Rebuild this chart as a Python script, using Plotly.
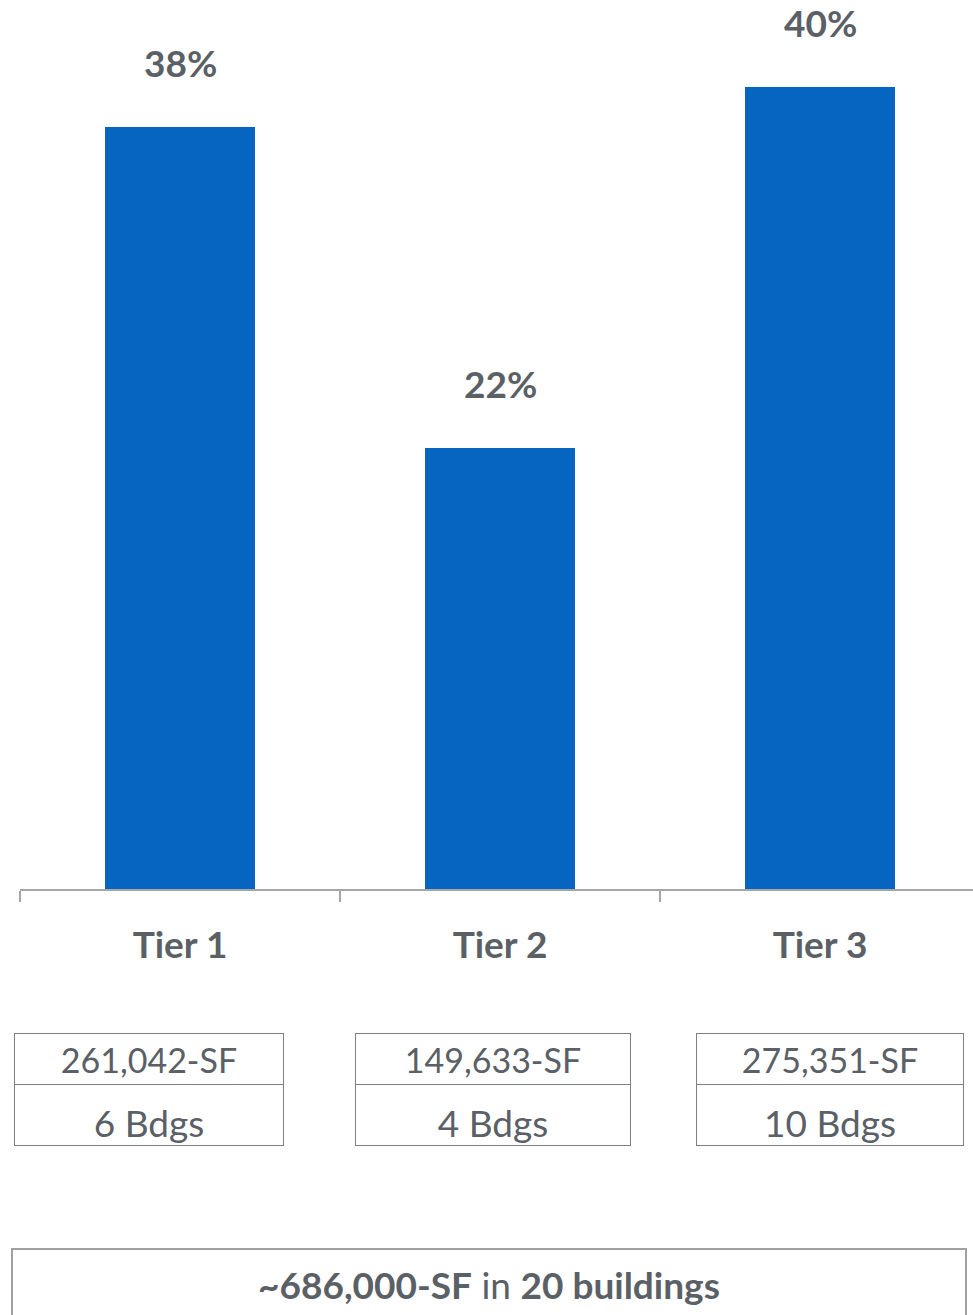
import plotly.graph_objects as go

# Share of total square footage by tier
tiers = ["Tier 1", "Tier 2", "Tier 3"]
share_pct = [38, 22, 40]
tier_sqft = ["261,042-SF", "149,633-SF", "275,351-SF"]
tier_bldgs = ["6 Bdgs", "4 Bdgs", "10 Bdgs"]
total_text = "<b>~686,000-SF</b> in <b>20 buildings</b>"

BLUE = "#0565C0"
GREY_TEXT = "#5a6065"
FONT = "Lato, 'Open Sans', sans-serif"

W, H = 973, 1315
PLOT_BOTTOM = 889  # pixel row of the category axis

fig = go.Figure(
    go.Bar(
        x=tiers,
        y=share_pct,
        marker=dict(color=BLUE, line=dict(width=0)),
        width=0.466,
        hoverinfo="skip",
    )
)

# Percentage labels floating above each bar
for t, v in zip(tiers, share_pct):
    fig.add_annotation(
        x=t, y=v, xref="x", yref="y",
        text=f"<b>{v}%</b>", showarrow=False,
        yanchor="bottom", yshift=40,
        font=dict(family=FONT, size=37, color=GREY_TEXT),
    )

# Detail boxes under each tier: square footage and building count
box_xshift = [-31, -7, 10]
box_width = [268, 274, 266]
for i, t in enumerate(tiers):
    common = dict(
        x=t, xref="x", y=0, yref="paper", yanchor="middle",
        showarrow=False, xshift=box_xshift[i], width=box_width[i],
        bordercolor="#7f7f7f", borderwidth=1, borderpad=0,
        bgcolor="rgba(0,0,0,0)",
    )
    fig.add_annotation(text=tier_sqft[i], height=50,
                       font=dict(family=FONT, size=34, color=GREY_TEXT),
                       yshift=-(1058.5 - PLOT_BOTTOM), **common)
    fig.add_annotation(text=tier_bldgs[i], height=60, valign="bottom",
                       font=dict(family=FONT, size=37, color=GREY_TEXT),
                       yshift=-(1114.5 - PLOT_BOTTOM), **common)

# Portfolio total
fig.add_annotation(
    x=0.5, xref="paper", y=0, yref="paper", yanchor="middle",
    xshift=(489 - (20 + 953 / 2)),
    text=total_text, showarrow=False,
    width=952, height=68, bordercolor="#a0a0a0", borderwidth=2, borderpad=0,
    font=dict(family=FONT, size=37, color=GREY_TEXT),
    yshift=-(1284 - PLOT_BOTTOM),
)

px_per_pct = 20.05
fig.update_layout(
    width=W, height=H, autosize=False,
    margin=dict(l=20, r=0, t=0, b=H - PLOT_BOTTOM, pad=0),
    paper_bgcolor="white", plot_bgcolor="white",
    showlegend=False, bargap=0,
    xaxis=dict(
        type="category",
        range=[-0.5, -0.5 + 953 / 320],
        showline=True, linecolor="#a6a6a6", linewidth=2,
        ticks="outside", tickson="boundaries", ticklen=11,
        tickcolor="#a6a6a6", tickwidth=2,
        tickfont=dict(family=FONT, size=37, color=GREY_TEXT),
        ticklabelstandoff=23,
        showgrid=False, zeroline=False,
    ),
    yaxis=dict(
        range=[0, PLOT_BOTTOM / px_per_pct],
        visible=False, showgrid=False, zeroline=False,
    ),
)
fig.update_xaxes(ticktext=[f"<b>{t}</b>" for t in tiers], tickvals=tiers)

fig.write_html("out.html")
